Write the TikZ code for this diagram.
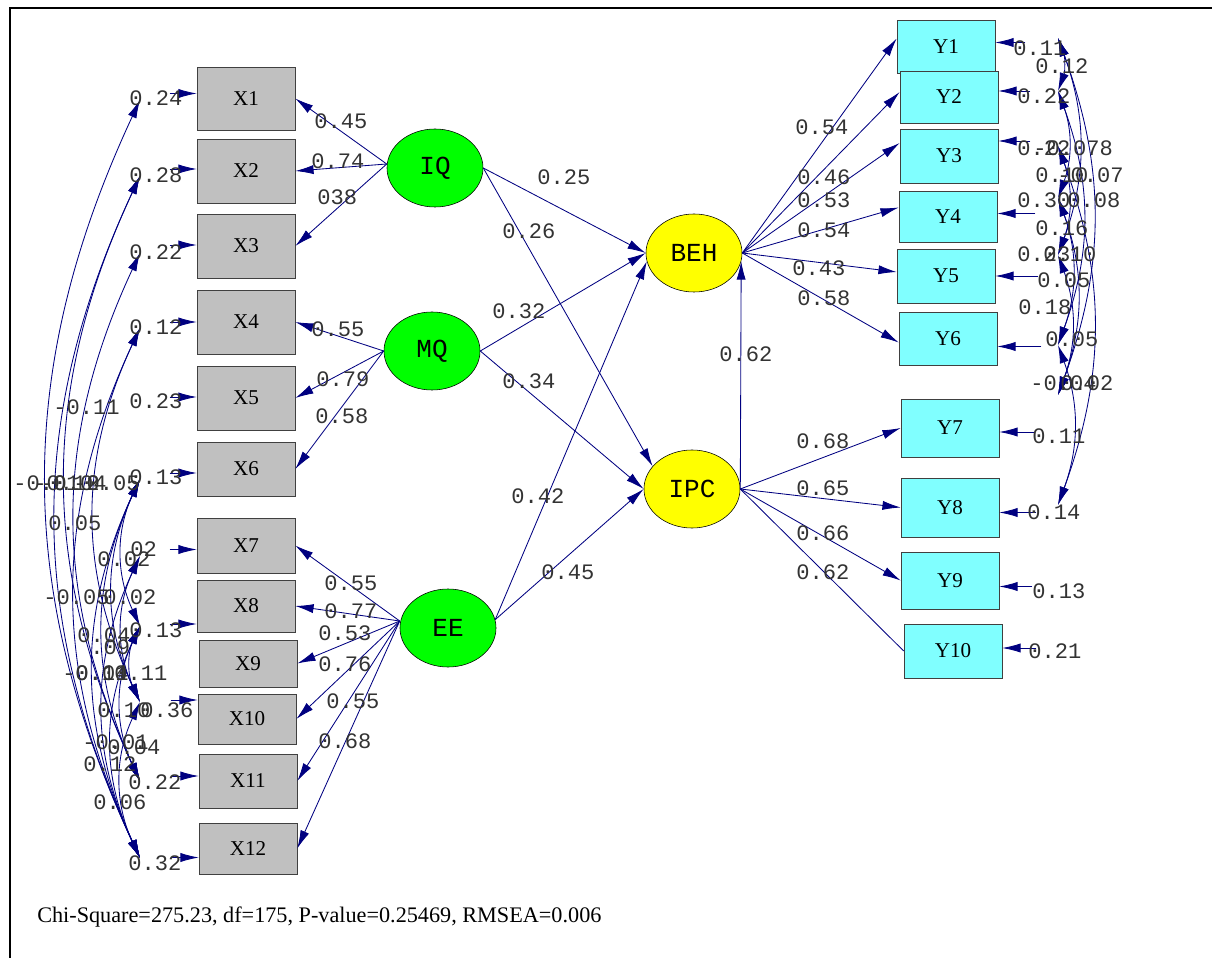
\documentclass[tikz,border=0pt]{standalone}
\usepackage{fontspec}
\setmainfont{Liberation Serif}
\newfontfamily\lisfont{Liberation Mono}
\usetikzlibrary{arrows.meta,calc,shapes.geometric}
\definecolor{PathBlue}{RGB}{0,0,128}
\definecolor{BoxGray}{RGB}{192,192,192}
\definecolor{BoxCyan}{RGB}{128,255,255}
\definecolor{LatGreen}{RGB}{0,255,0}
\definecolor{LatYellow}{RGB}{255,255,0}
\definecolor{TextGray}{RGB}{51,51,51}

\begin{document}
\begin{tikzpicture}[x=0.025cm,y=-0.025cm,
  xbox/.style={draw=black!75,fill=BoxGray,minimum width=2.45cm,inner sep=0pt,font=\fontsize{15}{15}\selectfont},
  ybox/.style={xbox,fill=BoxCyan},
  exo/.style={ellipse,draw=black,fill=LatGreen,minimum width=2.4cm,minimum height=1.95cm,inner sep=0pt,font=\lisfont\fontsize{18.5}{18.5}\selectfont},
  endo/.style={exo,fill=LatYellow},
  load/.style={-{Latex[length=13pt,width=6.5pt]},PathBlue,line width=0.6pt},
  cov/.style={{Latex[length=13pt,width=6.5pt]}-{Latex[length=13pt,width=6.5pt]},PathBlue,line width=0.6pt},
  est/.style={anchor=west,inner sep=0pt,text=TextGray,font=\lisfont\fontsize{15.7}{15.7}\selectfont}]
\useasboundingbox (0,0) rectangle (1212,958);
\draw[line width=1.4pt] (10,958) -- (10,8) -- (1212,8);

\foreach \n/\x/\y/\h in {X1/246/98.5/1.575,X2/246/171/1.6,X3/246/246/1.6,X4/246/322/1.6,X5/246/398/1.6,X6/246/469/1.35,
  X7/246/545.5/1.375,X8/246/606/1.3,X9/248/663.5/1.175,X10/247/719/1.25,X11/248/781/1.35,X12/248/848.5/1.275}
  \node[xbox,minimum height=\h cm] (\n) at (\x,\y) {\n};
\foreach \n/\x/\y/\h in {Y1/946/46.5/1.325,Y2/949/97/1.3,Y3/949/156/1.35,Y4/948/216.5/1.275,Y5/946/276/1.35,
  Y6/948/338.5/1.325,Y7/950/428/1.45,Y8/950/507.5/1.475,Y9/950/580.5/1.425,Y10/953/651/1.35}
  \node[ybox,minimum height=\h cm] (\n) at (\x,\y) {\n};

\node[exo] (IQ) at (435,168) {IQ};
\node[exo] (MQ) at (432,351) {MQ};
\node[exo] (EE) at (448,628) {EE};
\node[endo] (BEH) at (694,253) {BEH};
\node[endo] (IPC) at (692,489) {IPC};

\foreach \n in {X1,X2,X3} \draw[load] ($(IQ.west)+(0,-4)$) -- (\n.east);
\foreach \n in {X4,X5,X6} \draw[load] (MQ.west) -- (\n.east);
\foreach \n in {X7,X8,X9,X10,X11,X12} \draw[load] ($(EE.west)+(0,-7)$) -- (\n.east);
\draw[load] (IQ.east) -- (BEH.west);
\draw[load] (IQ.east) -- (IPC.150);
\draw[load] (MQ.east) -- (BEH.west);
\draw[load] (MQ.east) -- (IPC.west);
\draw[load] (EE.10) -- (BEH.190);
\draw[load] (EE.10) -- (IPC.west);
\draw[load] (IPC.east) -- (BEH.-10);
\foreach \n/\d in {Y1/-8,Y2/-5,Y3/-13,Y4/-9,Y5/-4,Y6/4} \draw[load] (BEH.east) -- ($(\n.west)+(0,\d)$);
\foreach \n in {Y7,Y8,Y9} \draw[load] (IPC.east) -- (\n.west);
\draw[PathBlue,line width=0.6pt] (IPC.east) -- (Y10.west);

\foreach \n/\d in {X1/-5,X2/-2,X3/-1,X4/0,X5/-1,X6/4,X7/4,X8/18,X10/-19,X11/-5,X12/9}
  \draw[load] ($(\n.west)+(-27,\d)$) -- ($(\n.west)+(0,\d)$);
\foreach \n/\d/\l in {Y1/-4/30,Y2/-6/32,Y3/-15/32,Y4/-3/38,Y5/0/43,Y6/8/44,Y7/4/36,Y8/5/37,Y9/6/33,Y10/-3/34}
  \draw[load] ($(\n.east)+(\l,\d)$) -- ($(\n.east)+(0,\d)$);

\foreach \i/\y in {1/100,2/176,3/253,4/328,6/479,7/556,8/626,10/702,11/781,12/858} \coordinate (e\i) at (140,\y);
\foreach \i/\y in {1/38,2/91,3/146,4/198,5/255,6/345,7/395,8/505} \coordinate (r\i) at (1058,\y);
\foreach \a/\b in {1/12,2/11,2/12,3/11,4/10,4/12,6/8,6/10,6/11,6/12,7/10,7/12,8/10,8/11,8/12,10/12}
  \draw[cov] (e\a) to[bend right=25] (e\b);
\foreach \a/\b in {1/2,1/5,1/7,2/4,2/6,3/5,3/8,4/6,5/7,6/8,4/7}
  \draw[cov] (r\a) to[bend left=20] (r\b);

\foreach \x/\y/\t [count=\i] in {314/121/0.45,311/161/0.74,317/197/038,311/329/0.55,316/379/0.79,315/416/0.58,
  324/583/0.55,324/611/0.77,318/633/0.53,318/664/0.76,326/701/0.55,318/741/0.68,
  537/177/0.25,502/231/0.26,492/311/0.32,502/381/0.34,511/496/0.42,541/572/0.45,719/354/0.62,
  795/127/0.54,797/177/0.46,797/200/0.53,797/230/0.54,792/268/0.43,797/298/0.58,
  796/441/0.68,796/488/0.65,796/533/0.66,796/572/0.62}
  \node[est] (p\i) at (\x,\y) {\t};
\foreach \x/\y/\t [count=\i] in {129/98/0.24,129/175/0.28,129/252/0.22,129/327/0.12,129/401/0.23,129/477/0.13,
  129/630/0.13,140/710/0.36,128/782/0.22,128/863/0.32,
  1013/48/0.11,1017/96/0.22,1017/148/0.22,1017/200/0.30,1037/280/0.05,1045/339/0.05,
  1032/436/0.11,1027/512/0.14,1032/591/0.13,1028/651/0.21}
  \node[est] (d\i) at (\x,\y) {\t};
\foreach \x/\y/\t [count=\i] in {53/407/-0.11,13/483/-0.01,33/483/-0.12,40/483/-0.04,73/483/-0.05,48/523/0.05,
  130/549/02,97/559/0.02,43/597/-0.05,103/597/0.02,77/635/0.04,90/647/.09,62/673/-0.01,75/673/0.14,114/673/0.11,
  97/710/0.10,82/742/-0.01,107/747/0.04,83/764/0.12,93/802/0.06,
  1035/66/0.12,1033/148/-0.078,1035/175/0.10,1057/175/-0.07,1067/200/0.08,1035/228/0.16,
  1017/254/0.23,1043/254/0.10,1018/307/0.18,1030/383/-0.04,1060/383/0.02}
  \node[est] (c\i) at (\x,\y) {\t};

\node[anchor=west,inner sep=0pt,font=\fontsize{15.8}{15.8}\selectfont] (fit) at (37,917)
  {Chi-Square=275.23, df=175, P-value=0.25469, RMSEA=0.006};
\end{tikzpicture}
\end{document}
